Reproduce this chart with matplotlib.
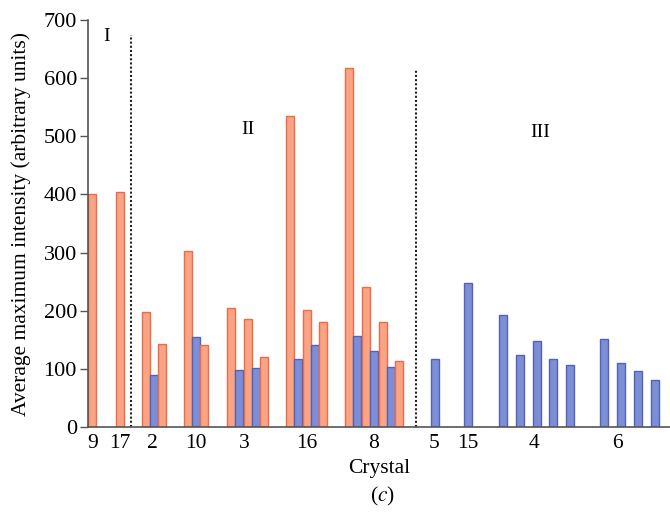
import matplotlib.pyplot as plt

plt.rcParams['font.family'] = ['Liberation Serif', 'DejaVu Serif']
plt.rcParams['mathtext.fontset'] = 'stix'

# crystal groups: label, bar values and bar colour codes (o = orange, b = blue)
crystals = ['9', '17', '2', '10', '3', '16', '8', '5', '15', '4', '6']
values = [
    [400],
    [405],
    [198, 90, 143],
    [303, 155, 141],
    [204, 98, 185, 101, 121],
    [535, 117, 202, 141, 181],
    [617, 157, 240, 130, 181, 104, 114],
    [117],
    [248],
    [192, 123, 148, 117, 107],
    [151, 110, 96, 80],
]
kinds = [
    'o', 'o', 'obo', 'obo', 'obobo', 'obobo', 'obobobo',
    'b', 'b', 'bbbbb', 'bbbb',
]
regions = ['I', 'II', 'III']

# layout (x in axis units, ~1 unit per pixel)
group_start = [0, 28, 54, 96, 139, 198, 257, 343, 376, 411, 512]
group_step = [8.3, 8.3, 8.2, 8.2, 8.3, 8.3, 8.4, 8.3, 8.3, 16.8, 17]
label_pos = [5, 32, 64, 108, 156, 219, 286, 346, 380, 446, 529]
bar_w = 8
dividers = [43, 328]
region_pos = [(19, 672), (160, 512), (452, 507)]

face = {'o': '#F9A484', 'b': '#7C8ED6'}
edge = {'o': '#EE6A48', 'b': '#5262B5'}

fig = plt.figure(figsize=(6.7, 5.13), dpi=100)
ax = fig.add_axes([88 / 670, 86 / 513, 582 / 670, 407 / 513])

for i, vals in enumerate(values):
    for j, v in enumerate(vals):
        k = kinds[i][j]
        ax.bar(group_start[i] + j * group_step[i], v, width=bar_w, align='edge',
               color=face[k], edgecolor=edge[k], linewidth=1)

for d, top in zip(dividers, [675, 615]):
    ax.plot([d, d], [0, top], color='#222222', linestyle=(0, (1, 1)), linewidth=1.5)

for name, (x, y) in zip(regions, region_pos):
    ax.text(x, y, name, fontsize=14, ha='center', va='center')

ax.set_xlim(0, 582)
ax.set_ylim(0, 700)
ax.set_yticks(range(0, 701, 100))
ax.set_xticks(label_pos)
ax.set_xticklabels(crystals, fontsize=15.5)
ax.tick_params(axis='x', length=0, pad=5)
ax.tick_params(axis='y', labelsize=16, length=6, color='#555555', width=1, pad=2)
for s in ['top', 'right']:
    ax.spines[s].set_visible(False)
for s in ['left', 'bottom']:
    ax.spines[s].set_color('#555555')
    ax.spines[s].set_linewidth(1.2)

ax.set_xlabel('Crystal', fontsize=15.5, labelpad=4)
ax.set_ylabel('Average maximum intensity (arbitrary units)', fontsize=15.5, labelpad=9)
fig.text(382 / 670, 1 - 496 / 513, '($\\mathit{c}$)', fontsize=15.5, ha='center', va='center')

fig.savefig('out.png', dpi=100)
